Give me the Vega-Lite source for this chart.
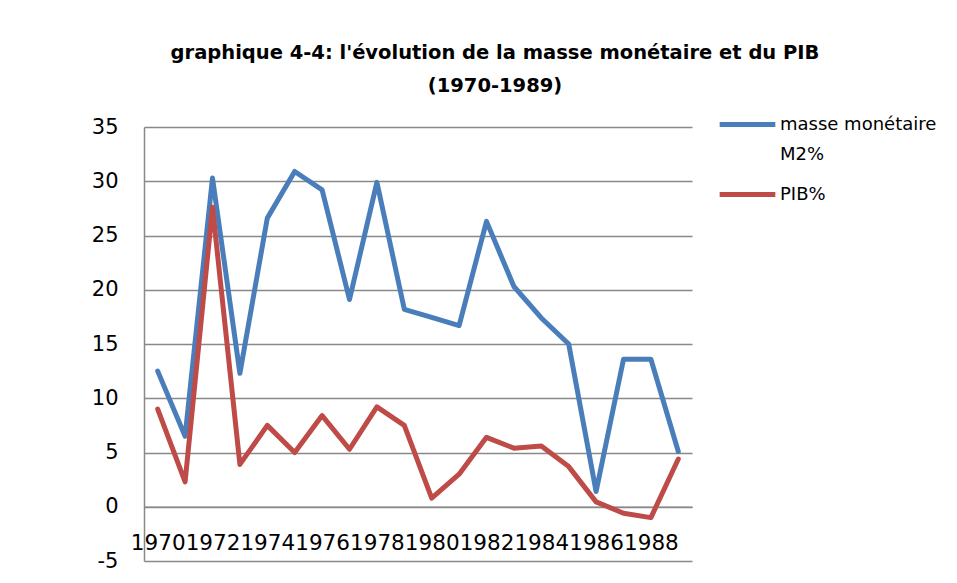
{
  "$schema": "https://vega.github.io/schema/vega-lite/v6.json",
  "autosize": "none",
  "width": 548,
  "height": 434,
  "padding": {"left": 144, "top": 127, "right": 265, "bottom": 22},
  "background": "white",
  "title": {
    "text": ["graphique 4-4: l'évolution de la masse monétaire et du PIB", "(1970-1989)"],
    "font": "DejaVu Sans",
    "fontSize": 19.5,
    "fontWeight": "bold",
    "color": "black",
    "anchor": "middle",
    "dx": 77,
    "lineHeight": 33,
    "offset": -2
  },
  "data": {
    "values": [
      {"year": "1970", "series": "masse monétaire M2%", "value": 12.5},
      {"year": "1971", "series": "masse monétaire M2%", "value": 6.5},
      {"year": "1972", "series": "masse monétaire M2%", "value": 30.3},
      {"year": "1973", "series": "masse monétaire M2%", "value": 12.3},
      {"year": "1974", "series": "masse monétaire M2%", "value": 26.6},
      {"year": "1975", "series": "masse monétaire M2%", "value": 30.9},
      {"year": "1976", "series": "masse monétaire M2%", "value": 29.2},
      {"year": "1977", "series": "masse monétaire M2%", "value": 19.1},
      {"year": "1978", "series": "masse monétaire M2%", "value": 29.9},
      {"year": "1979", "series": "masse monétaire M2%", "value": 18.2},
      {"year": "1980", "series": "masse monétaire M2%", "value": 17.45},
      {"year": "1981", "series": "masse monétaire M2%", "value": 16.7},
      {"year": "1982", "series": "masse monétaire M2%", "value": 26.3},
      {"year": "1983", "series": "masse monétaire M2%", "value": 20.3},
      {"year": "1984", "series": "masse monétaire M2%", "value": 17.4},
      {"year": "1985", "series": "masse monétaire M2%", "value": 15.0},
      {"year": "1986", "series": "masse monétaire M2%", "value": 1.4},
      {"year": "1987", "series": "masse monétaire M2%", "value": 13.6},
      {"year": "1988", "series": "masse monétaire M2%", "value": 13.6},
      {"year": "1989", "series": "masse monétaire M2%", "value": 5.1},
      {"year": "1970", "series": "PIB%", "value": 9.0},
      {"year": "1971", "series": "PIB%", "value": 2.3},
      {"year": "1972", "series": "PIB%", "value": 27.6},
      {"year": "1973", "series": "PIB%", "value": 3.9},
      {"year": "1974", "series": "PIB%", "value": 7.5},
      {"year": "1975", "series": "PIB%", "value": 5.0},
      {"year": "1976", "series": "PIB%", "value": 8.4},
      {"year": "1977", "series": "PIB%", "value": 5.3},
      {"year": "1978", "series": "PIB%", "value": 9.2},
      {"year": "1979", "series": "PIB%", "value": 7.5},
      {"year": "1980", "series": "PIB%", "value": 0.8},
      {"year": "1981", "series": "PIB%", "value": 3.0},
      {"year": "1982", "series": "PIB%", "value": 6.4},
      {"year": "1983", "series": "PIB%", "value": 5.4},
      {"year": "1984", "series": "PIB%", "value": 5.6},
      {"year": "1985", "series": "PIB%", "value": 3.7},
      {"year": "1986", "series": "PIB%", "value": 0.45},
      {"year": "1987", "series": "PIB%", "value": -0.6},
      {"year": "1988", "series": "PIB%", "value": -1.0},
      {"year": "1989", "series": "PIB%", "value": 4.4}
    ]
  },
  "mark": {"type": "line", "strokeWidth": 5, "strokeJoin": "round", "strokeCap": "round"},
  "encoding": {
    "x": {
      "field": "year",
      "type": "ordinal",
      "sort": null,
      "scale": {"type": "point", "padding": 0.5},
      "axis": {
        "title": null,
        "values": ["1970", "1972", "1974", "1976", "1978", "1980", "1982", "1984", "1986", "1988"],
        "offset": -54.25,
        "ticks": false,
        "grid": false,
        "domainColor": "#898989",
        "domainWidth": 1.5,
        "labelAngle": 0,
        "labelFont": "DejaVu Sans",
        "labelFontSize": 21.5,
        "labelColor": "black",
        "labelBaseline": "middle",
        "labelPadding": 37,
        "labelOverlap": false,
        "labelFlush": false
      }
    },
    "y": {
      "field": "value",
      "type": "quantitative",
      "scale": {"domain": [-5, 35], "nice": false, "zero": false},
      "axis": {
        "title": null,
        "values": [-5, 0, 5, 10, 15, 20, 25, 30, 35],
        "labelExpr": "'' + datum.value",
        "ticks": false,
        "grid": true,
        "gridColor": "#898989",
        "gridWidth": 1.5,
        "domainColor": "#898989",
        "domainWidth": 1.5,
        "labelFont": "DejaVu Sans",
        "labelFontSize": 21,
        "labelColor": "black",
        "labelPadding": 26,
        "labelBaseline": "middle"
      }
    },
    "color": {
      "field": "series",
      "type": "nominal",
      "scale": {"domain": ["masse monétaire M2%", "PIB%"], "range": ["#4A7EBB", "#BE4B48"]},
      "legend": {
        "title": null,
        "orient": "none",
        "legendX": 573,
        "legendY": -33,
        "symbolType": "stroke",
        "symbolSize": 3100,
        "symbolStrokeWidth": 5,
        "labelFont": "DejaVu Sans",
        "labelFontSize": 18,
        "labelColor": "black",
        "labelLimit": 300,
        "labelOffset": 2,
        "rowPadding": 0,
        "labelExpr": "datum.label == 'masse monétaire M2%' ? ['masse monétaire', 'M2%'] : datum.label",
        "encode": {"labels": {"update": {"lineHeight": {"value": 30}}}}
      }
    }
  },
  "config": {"view": {"stroke": null}}
}
